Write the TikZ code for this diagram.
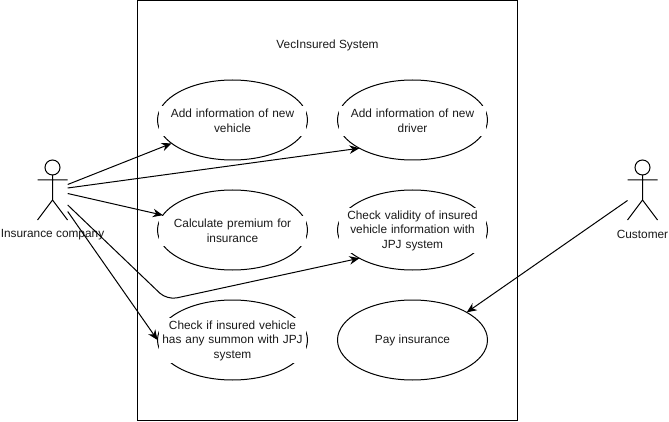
\documentclass[tikz,border=0pt]{standalone}
\usepackage{fontspec}
\setmainfont{Liberation Sans}
\usetikzlibrary{arrows.meta,shapes.geometric}
\definecolor{ink}{HTML}{1A1A1A}
\tikzset{
  usecase/.style={ellipse,draw=black,line width=1pt,inner sep=0pt,outer sep=0pt,minimum width=150pt,minimum height=80pt},
  lbltwo/.style={fill=white,text=ink,inner xsep=0pt,inner ysep=0pt,outer sep=0pt,text width=147pt,align=center,font=\fontsize{11.85pt}{14.5pt}\selectfont,minimum height=30pt,yshift=-0.7pt},
  lblthree/.style={lbltwo,minimum height=45pt},
  plain text/.style={text=ink,inner sep=0pt,font=\fontsize{11.85pt}{14.5pt}\selectfont},
  limb/.style={draw=black,line width=1pt},
  head/.style={circle,draw=black,line width=1pt,inner sep=0pt,outer sep=0pt,minimum size=15pt},
  conn/.style={draw=black,line width=1pt,-{Stealth[length=10pt,width=8.5pt]}}
}
\begin{document}
\begin{tikzpicture}[x=1pt,y=-1pt]
\useasboundingbox[fill=white] (0,0) rectangle (669,422);
\node[draw=black,line width=1pt,inner sep=0pt,outer sep=0pt,minimum width=380pt,minimum height=420pt] (sys) at (327.5,210.5) {};
\node[plain text] (title) at (327.5,45.5) {VecInsured System};

\node[usecase] (uc1) at (232.5,120) {};
\node[usecase] (uc2) at (412.5,120) {};
\node[usecase] (uc3) at (232.5,230) {};
\node[usecase] (uc4) at (412.5,230) {};
\node[usecase] (uc5) at (232.5,340) {};
\node[usecase] (uc6) at (412.5,340) {};
\node[lbltwo] (t1) at (uc1) {Add information of new\\vehicle};
\node[lbltwo] (t2) at (uc2) {Add information of new\\driver};
\node[lbltwo] (t3) at (uc3) {Calculate premium for\\insurance};
\node[lblthree] (t4) at (uc4) {Check validity of insured\\vehicle information with\\JPJ system};
\node[lblthree] (t5) at (uc5) {Check if insured vehicle\\has any summon with JPJ\\system};
\node[plain text] (t6) at (412.5,340.5) {Pay insurance};

% actor: Insurance company
\node[head] (h1) at (52.5,167.5) {};
\coordinate (hip1) at (52.5,200);
\coordinate (al1) at (37.5,180);
\coordinate (ar1) at (67.5,180);
\coordinate (ll1) at (37.5,220);
\coordinate (lr1) at (67.5,220);
\path[limb] (h1.south) -- (hip1) (al1) -- (ar1) (ll1) -- (hip1) -- (lr1);
\node[plain text] (a1) at (52.5,234.5) {Insurance company};

% actor: Customer
\node[head] (h2) at (642.5,167.5) {};
\coordinate (hip2) at (642.5,200);
\coordinate (al2) at (627.5,180);
\coordinate (ar2) at (657.5,180);
\coordinate (ll2) at (627.5,220);
\coordinate (lr2) at (657.5,220);
\path[limb] (h2.south) -- (hip2) (al2) -- (ar2) (ll2) -- (hip2) -- (lr2);
\node[plain text] (a2) at (642.5,234) {Customer};

% connector ends
\coordinate (s1) at (67.7,184.5);
\coordinate (s2) at (67.7,188);
\coordinate (s3) at (67.7,193.5);
\coordinate (s4) at (67.7,205);
\coordinate (s5) at (67.7,211.5);
\coordinate (s6) at (627.5,200.5);
\coordinate (bend) at (167,300);

\path[conn] (s1) -- (uc1.201.6);
\path[conn] (s2) -- (uc2.208);
\path[conn] (s3) -- (uc3.168.3);
\path[conn,rounded corners=10pt] (s4) -- (bend) -- (uc4.208);
\path[conn] (s5) -- (uc5.west);
\path[conn] (s6) -- (uc6.27.6);
\end{tikzpicture}
\end{document}
